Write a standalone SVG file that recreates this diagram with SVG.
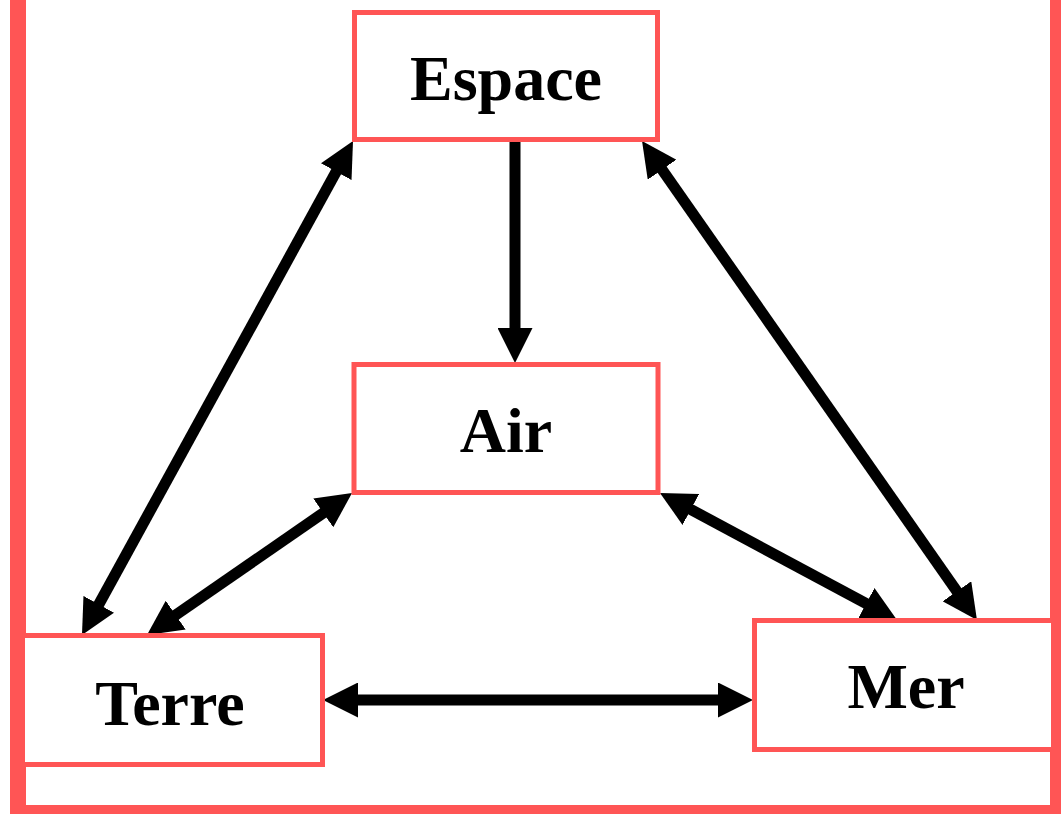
<svg xmlns="http://www.w3.org/2000/svg" width="1061" height="814" viewBox="0 0 1061 814">
  <style>
    .frame { fill: none; stroke: #FF5555; stroke-width: 16; }
    .node rect { fill: #FFFFFF; stroke: #FF5555; stroke-width: 5; }
    .node text { font-family: "Liberation Serif", "Times New Roman", serif; font-weight: bold; font-size: 64px; fill: #000000; text-anchor: middle; }
    .edge { stroke: #000000; stroke-width: 11; fill: none; }
  </style>
  <defs>
    <marker id="head" markerUnits="userSpaceOnUse" markerWidth="35" markerHeight="35" refX="15" refY="17.5" orient="auto-start-reverse" viewBox="0 0 35 35">
      <path d="M0,0 L35,17.5 L0,35 Z" fill="#000000"/>
    </marker>
  </defs>
  <rect x="0" y="0" width="1061" height="814" fill="#FFFFFF"/>
  <rect class="frame" x="18" y="-30" width="1040" height="843"/>
  <g id="connectors">
    <line class="edge" x1="515" y1="142" x2="515" y2="343" marker-end="url(#head)"/>
    <line class="edge" x1="91.6" y1="617.5" x2="343.4" y2="158.5" marker-start="url(#head)" marker-end="url(#head)"/>
    <line class="edge" x1="163.4" y1="623.6" x2="335.6" y2="504.4" marker-start="url(#head)" marker-end="url(#head)"/>
    <line class="edge" x1="653.5" y1="157.4" x2="965.5" y2="603.6" marker-start="url(#head)" marker-end="url(#head)"/>
    <line class="edge" x1="677.6" y1="502.4" x2="879.4" y2="610.6" marker-start="url(#head)" marker-end="url(#head)"/>
    <line class="edge" x1="343" y1="700" x2="733" y2="700" marker-start="url(#head)" marker-end="url(#head)"/>
  </g>
  <g id="espace" class="node">
    <rect x="354.5" y="12.5" width="303" height="127"/>
    <text x="506" y="100">Espace</text>
  </g>
  <g id="air" class="node">
    <rect x="354" y="364.5" width="304" height="128"/>
    <text x="506" y="452">Air</text>
  </g>
  <g id="terre" class="node">
    <rect x="22.5" y="635.5" width="300" height="129"/>
    <text x="170" y="725">Terre</text>
  </g>
  <g id="mer" class="node">
    <rect x="754.5" y="620.5" width="299" height="129"/>
    <text x="906" y="708">Mer</text>
  </g>
</svg>
